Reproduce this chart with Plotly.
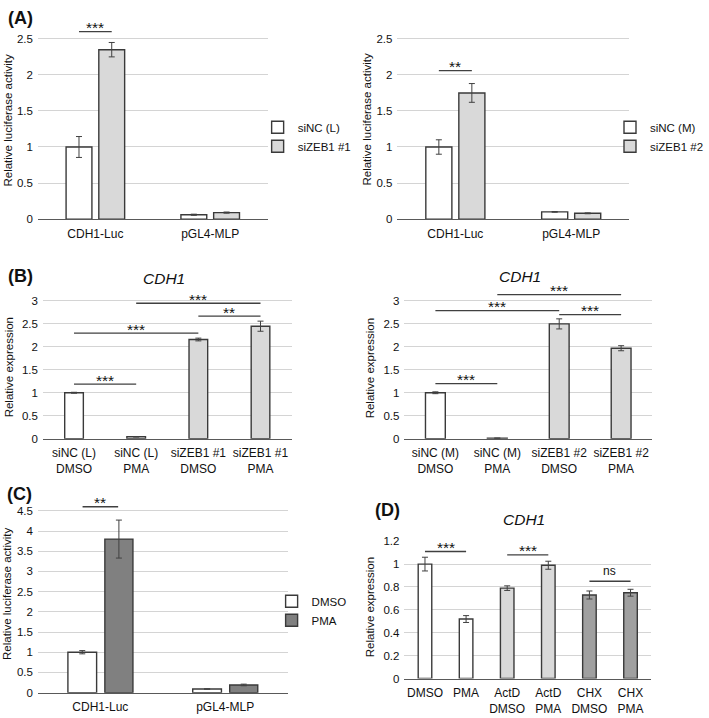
import plotly.graph_objects as go

W, H = 709, 718
FONT = "Liberation Sans, Arial, sans-serif"
TXT = "#111111"
EDGE = "#3a3a3a"
WHITE, LIGHT, DARK, MID = "#ffffff", "#d9d9d9", "#808080", "#a0a0a0"

# ---------------- data ----------------
# Panel A (luciferase)
a_cats = ["CDH1-Luc", "pGL4-MLP"]
a1_sinc = [1.0, 0.06]
a1_sinc_err = [0.145, 0.008]
a1_zeb = [2.35, 0.09]
a1_zeb_err = [0.10, 0.008]
a2_sinc = [1.0, 0.10]
a2_sinc_err = [0.10, 0.005]
a2_zeb = [1.75, 0.08]
a2_zeb_err = [0.13, 0.006]

# Panel B (CDH1 expression)
b1_labels = ["siNC (L)<br>DMSO", "siNC (L)<br>PMA", "siZEB1 #1<br>DMSO", "siZEB1 #1<br>PMA"]
b1_vals = [1.0, 0.04, 2.16, 2.45]
b1_err = [0.01, 0.005, 0.03, 0.11]
b2_labels = ["siNC (M)<br>DMSO", "siNC (M)<br>PMA", "siZEB1 #2<br>DMSO", "siZEB1 #2<br>PMA"]
b2_vals = [1.0, 0.01, 2.50, 1.97]
b2_err = [0.02, 0.003, 0.11, 0.055]

# Panel C (luciferase, DMSO vs PMA)
c_cats = ["CDH1-Luc", "pGL4-MLP"]
c_dmso = [1.0, 0.09]
c_dmso_err = [0.04, 0.005]
c_pma = [3.8, 0.19]
c_pma_err = [0.47, 0.02]

# Panel D (CDH1 expression)
d_labels = ["DMSO", "PMA", "ActD<br>DMSO", "ActD<br>PMA", "CHX<br>DMSO", "CHX<br>PMA"]
d_vals = [1.0, 0.52, 0.79, 0.99, 0.73, 0.75]
d_err = [0.06, 0.03, 0.02, 0.035, 0.035, 0.03]

# significance brackets: (axis suffix, x0, x1, y, label)
OFF1, OFF2, BW = -0.255, 0.03, 0.225
c1 = OFF1 + BW / 2
c2 = OFF2 + BW / 2
sig = [
    ("", c1, c2, 2.6, "***"),
    ("2", c1, c2, 2.06, "**"),
    ("3", 0, 1, 1.19, "***"),
    ("3", 0, 2, 2.30, "***"),
    ("3", 2, 3, 2.67, "**"),
    ("3", 1, 3, 2.95, "***"),
    ("4", 0, 1, 1.20, "***"),
    ("4", 0, 2, 2.79, "***"),
    ("4", 2, 3, 2.70, "***"),
    ("4", 1, 3, 3.14, "***"),
    ("5", c1, c2, 4.6, "**"),
    ("6", 0, 1, 1.11, "***"),
    ("6", 2, 3, 1.08, "***"),
    ("6", 4, 5, 0.85, "ns"),
]

fig = go.Figure()

def errb(e):
    return dict(type="data", array=e, visible=True, color="#404040", thickness=1, width=3)

mk = lambda c: dict(color=c, line=dict(color=EDGE, width=1.4))

# Panel A left
fig.add_trace(go.Bar(x=list(range(2)), y=a1_sinc, error_y=errb(a1_sinc_err), name="siNC (L)",
                     marker=mk(WHITE), offset=OFF1, width=BW, xaxis="x", yaxis="y", legend="legend"))
fig.add_trace(go.Bar(x=list(range(2)), y=a1_zeb, error_y=errb(a1_zeb_err), name="siZEB1 #1",
                     marker=mk(LIGHT), offset=OFF2, width=BW, xaxis="x", yaxis="y", legend="legend"))
# Panel A right
fig.add_trace(go.Bar(x=list(range(2)), y=a2_sinc, error_y=errb(a2_sinc_err), name="siNC (M)",
                     marker=mk(WHITE), offset=OFF1, width=BW, xaxis="x2", yaxis="y2", legend="legend2"))
fig.add_trace(go.Bar(x=list(range(2)), y=a2_zeb, error_y=errb(a2_zeb_err), name="siZEB1 #2",
                     marker=mk(LIGHT), offset=OFF2, width=BW, xaxis="x2", yaxis="y2", legend="legend2"))
# Panel B
fig.add_trace(go.Bar(x=list(range(4)), y=b1_vals, error_y=errb(b1_err), showlegend=False,
                     marker=mk([WHITE, WHITE, LIGHT, LIGHT]), width=0.3, xaxis="x3", yaxis="y3"))
fig.add_trace(go.Bar(x=list(range(4)), y=b2_vals, error_y=errb(b2_err), showlegend=False,
                     marker=mk([WHITE, WHITE, LIGHT, LIGHT]), width=0.32, xaxis="x4", yaxis="y4"))
# Panel C
fig.add_trace(go.Bar(x=list(range(2)), y=c_dmso, error_y=errb(c_dmso_err), name="DMSO",
                     marker=mk(WHITE), offset=-0.26, width=0.23, xaxis="x5", yaxis="y5", legend="legend3"))
fig.add_trace(go.Bar(x=list(range(2)), y=c_pma, error_y=errb(c_pma_err), name="PMA",
                     marker=mk(DARK), offset=0.036, width=0.225, xaxis="x5", yaxis="y5", legend="legend3"))
# Panel D
fig.add_trace(go.Bar(x=list(range(6)), y=d_vals, error_y=errb(d_err), showlegend=False,
                     marker=mk([WHITE, WHITE, LIGHT, LIGHT, MID, MID]), width=0.33, xaxis="x6", yaxis="y6"))

def xd(a, b):
    return [a / W, b / W]

def yd(bottom, top):
    return [1 - bottom / H, 1 - top / H]

panels = {
    # suffix: (x px range, y bottom px, y top px, yrange, ymax tick, tickvals, ticktext)
    "": ((38, 268), 216.7, 15.1, [0, 2.75], 2.5, [0, 1], a_cats),
    "2": ((398, 630), 216.7, 15.1, [0, 2.75], 2.5, [0, 1], a_cats),
    "3": ((43, 292), 440, 288.3, [0, 3.25], 3, list(range(4)), b1_labels),
    "4": ((405, 653), 440, 288.3, [0, 3.25], 3, list(range(4)), b2_labels),
    "5": ((38, 288), 698.3, 503.1, [0, 4.75], 4.5, [0, 1], c_cats),
    "6": ((405, 652), 684, 544.3, [0, 1.2], 1.2, list(range(6)), d_labels),
}

step = {"": 0.5, "2": 0.5, "3": 0.5, "4": 0.5, "5": 0.5, "6": 0.2}
layout_axes = {}
for s, (xr, yb, yt, yrng, ymax, tv, tt) in panels.items():
    n = len(tv)
    ticks = [round(i * step[s], 2) for i in range(int(round(ymax / step[s])) + 1)]
    layout_axes["xaxis" + s] = dict(
        domain=xd(*xr), anchor="y" + s, range=[-0.5, n - 0.5], tickvals=tv, ticktext=tt,
        showgrid=False, zeroline=False, showline=True, linecolor="#595959", linewidth=1.3,
        ticks="", ticklabelstandoff=3, tickfont=dict(family=FONT, size=12, color=TXT), fixedrange=True)
    layout_axes["yaxis" + s] = dict(
        domain=yd(yb, yt), anchor="x" + s, range=yrng, tickvals=ticks,
        ticktext=[("%g" % t) for t in ticks], showgrid=True, gridcolor="#d4d4d4", gridwidth=1,
        zeroline=False, showline=False, ticks="", ticklabelstandoff=4,
        tickfont=dict(family=FONT, size=11.5, color=TXT), fixedrange=True)

shapes = []
annots = []
for s, x0, x1, y, lab in sig:
    shapes.append(dict(type="line", xref="x" + s, yref="y" + s, x0=x0, x1=x1, y0=y, y1=y,
                       line=dict(color="#404040", width=1.3)))
    is_ns = lab == "ns"
    annots.append(dict(xref="x" + s, yref="y" + s, x=(x0 + x1) / 2, y=y, text=lab, showarrow=False,
                       yanchor="middle", yshift=10 if is_ns else 4,
                       font=dict(family=FONT, size=12 if is_ns else 15.5, color=TXT)))

# panel letters
for lab, px, py in [("(A)", 21, 12), ("(B)", 21, 275), ("(C)", 20, 496), ("(D)", 388, 513)]:
    annots.append(dict(xref="paper", yref="paper", x=px / W, y=1 - py / H, text="<b>%s</b>" % lab,
                       showarrow=False, xanchor="center", yanchor="middle",
                       font=dict(family=FONT, size=18, color="#111111")))

# CDH1 titles
for px, py in [(164, 277), (521, 275), (525, 522)]:
    annots.append(dict(xref="paper", yref="paper", x=px / W, y=1 - py / H, text="<i>CDH1</i>",
                       showarrow=False, xanchor="center", yanchor="middle",
                       font=dict(family=FONT, size=15.5, color=TXT)))

# y axis titles
for txt, px, py in [("Relative luciferase activity", 8, 115.5),
                    ("Relative luciferase activity", 368, 115),
                    ("Relative expression", 9, 367.5),
                    ("Relative expression", 370, 368),
                    ("Relative luciferase activity", 7, 597),
                    ("Relative expression", 370, 611)]:
    annots.append(dict(xref="paper", yref="paper", x=px / W, y=1 - py / H, text=txt, textangle=-90,
                       showarrow=False, xanchor="center", yanchor="middle",
                       font=dict(family=FONT, size=11.5, color=TXT)))

leg = lambda px, py: dict(x=px / W, y=1 - py / H, xanchor="left", yanchor="middle",
                         bgcolor="rgba(0,0,0,0)", borderwidth=0, tracegroupgap=0,
                         font=dict(family=FONT, size=11.5, color=TXT), itemwidth=30)

fig.update_layout(
    width=W, height=H, margin=dict(l=0, r=0, t=0, b=0),
    paper_bgcolor="white", plot_bgcolor="white", barmode="overlay",
    showlegend=True,
    legend=leg(258, 133), legend2=leg(611, 133), legend3=leg(272, 615),
    shapes=shapes, annotations=annots, **layout_axes)

fig.write_html("out.html", config={"displayModeBar": False},
               post_script="document.body.style.margin='0px';document.body.style.overflow='hidden';")
